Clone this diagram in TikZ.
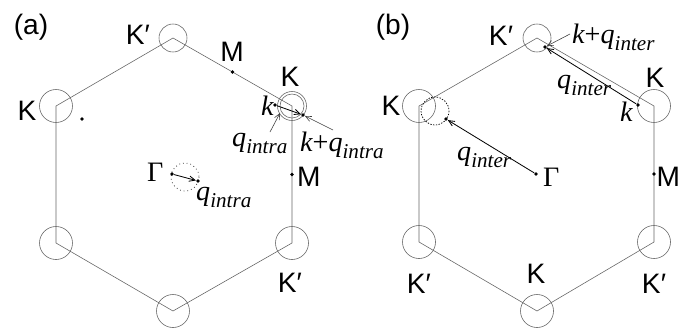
\documentclass[tikz,border=0pt]{standalone}
\usepackage{fontspec}
\setmainfont{Liberation Sans}
\newfontfamily\tms{Liberation Serif}
\usetikzlibrary{arrows.meta, calc, positioning}

\newcommand{\itq}[1]{{\tms\itshape #1}}
\newcommand{\qlab}[1]{\itq{q}\raisebox{-0.28em}{\fontsize{18}{18}\selectfont\itq{#1}}}

\begin{document}
\begin{tikzpicture}[x=0.03cm, y=-0.03cm,
  bz/.style={draw=black!60, line width=0.5pt},
  valley/.style={draw=black!60, line width=0.5pt},
  dot/.style={circle, fill=black, inner sep=0pt, minimum size=3.2pt},
  vec/.style={draw=black, line width=0.7pt, -{Straight Barb[length=5pt, width=4.5pt]}},
  ptr/.style={draw=black!75, line width=0.5pt, -{Straight Barb[length=5pt, width=4.5pt]}},
  sym/.style={font=\fontsize{24}{28}\selectfont, inner sep=0pt},
  mth/.style={font=\fontsize{24}{28}\selectfont\tms, inner sep=0pt, anchor=base west}]
  \useasboundingbox (0,0) rectangle (681,329);

  % (a) intravalley
  \node[sym] (tita) at (31,27) {(a)};
  \coordinate (aT) at (173,38);
  \coordinate (aUR) at (292,106);
  \coordinate (aLR) at (292,243);
  \coordinate (aB) at (173,311);
  \coordinate (aLL) at (56,243);
  \coordinate (aUL) at (56,106);
  \draw[bz] (aT) -- (aUR) -- (aLR) -- (aB) -- (aLL) -- (aUL) -- cycle;
  \draw[valley] (aT) circle[radius=14];
  \foreach \v in {aLR,aB,aLL,aUL}
    \draw[valley] (\v) circle[radius=16.5];
  \draw[valley] (aUR) circle[radius=14.5];
  \draw[valley] (aUR) circle[radius=12];
  % punkter
  \node[dot] (Ma) at ($(aT)!0.5!(aUR)$) {};
  \node[dot] (Mb) at ($(aUR)!0.5!(aLR)$) {};
  \node[dot] (xa) at (82,119) {};
  \node[dot] (ka) at (275,105) {};
  \node[dot] (kqa) at (303,115) {};
  \node[dot] (Ga) at (172,174) {};
  \node[dot] (qa) at (198,181) {};
  \draw[black, line width=0.6pt, dash pattern=on 0.6pt off 2.6pt] (185,177) circle[radius=14];
  % vektorer
  \draw[vec] (ka) -- (kqa);
  \draw[vec] (Ga) -- (qa);
  \coordinate (kqptr) at (333,130);
  \draw[ptr] (kqptr) -- (kqa);
  \coordinate (qptr) at (270,132);
  \coordinate (qtip) at (280,113);
  \draw[ptr] (qptr) -- (qtip);
  % labels
  \node[sym] (Kpa) at (138,35) {K′};
  \node[sym] (MLa) at (232,52) {M};
  \node[sym] (KRa) at (290,77) {K};
  \node[sym] (KLa) at (27,111) {K};
  \node[sym, anchor=west] (MRa) at (297,177) {M};
  \node[sym] (Kpb) at (290,283) {K′};
  \node[mth] (kla) at (261,115) {\itq{k}};
  \node[mth] (qla) at (232,146) {\qlab{intra}};
  \node[mth] (kqla) at (300,151) {\itq{k}+\qlab{intra}};
  \node[mth] (Gla) at (147,181) {Γ};
  \node[mth] (qlb) at (196,200) {\qlab{intra}};

  % (b) intervalley
  \node[sym] (titb) at (393,27) {(b)};
  \coordinate (bT) at (537,38);
  \coordinate (bUR) at (654,106);
  \coordinate (bLR) at (654,242);
  \coordinate (bB) at (537,311);
  \coordinate (bLL) at (419,242);
  \coordinate (bUL) at (419,106);
  \draw[bz] (bT) -- (bUR) -- (bLR) -- (bB) -- (bLL) -- (bUL) -- cycle;
  \draw[valley] (bT) circle[radius=14];
  \foreach \v in {bUR,bLR,bB,bLL,bUL}
    \draw[valley] (\v) circle[radius=16.5];
  \draw[black, line width=0.6pt, dash pattern=on 1.2pt off 1.2pt] (435,111) circle[radius=14];
  % punkter
  \node[dot] (Mc) at ($(bUR)!0.5!(bLR)$) {};
  \node[dot] (qb) at (446,119) {};
  \node[dot] (Gb) at (536,174) {};
  \node[dot] (kb) at (638,105) {};
  \node[dot] (kqb) at (545,47) {};
  % vektorer
  \draw[vec] (Gb) -- (qb);
  \draw[vec] (kb) -- (kqb);
  \coordinate (kqptrb) at (570,34);
  \draw[ptr] (kqptrb) -- (kqb);
  % labels
  \node[sym] (Kpc) at (501,36) {K′};
  \node[sym] (KLb) at (391,106) {K};
  \node[sym] (KRb) at (655,78) {K};
  \node[sym, anchor=west] (MRb) at (656.5,177) {M};
  \node[sym] (Kpd) at (419,284) {K′};
  \node[sym] (KBb) at (536,274) {K};
  \node[sym] (Kpe) at (654,284) {K′};
  \node[mth] (kqlb) at (572,43) {\itq{k}+\qlab{inter}};
  \node[mth] (qlc) at (557,88) {\qlab{inter}};
  \node[mth] (klb) at (620,121) {\itq{k}};
  \node[mth] (qld) at (457,160) {\qlab{inter}};
  \node[mth] (Glb) at (543,186) {Γ};
\end{tikzpicture}
\end{document}
